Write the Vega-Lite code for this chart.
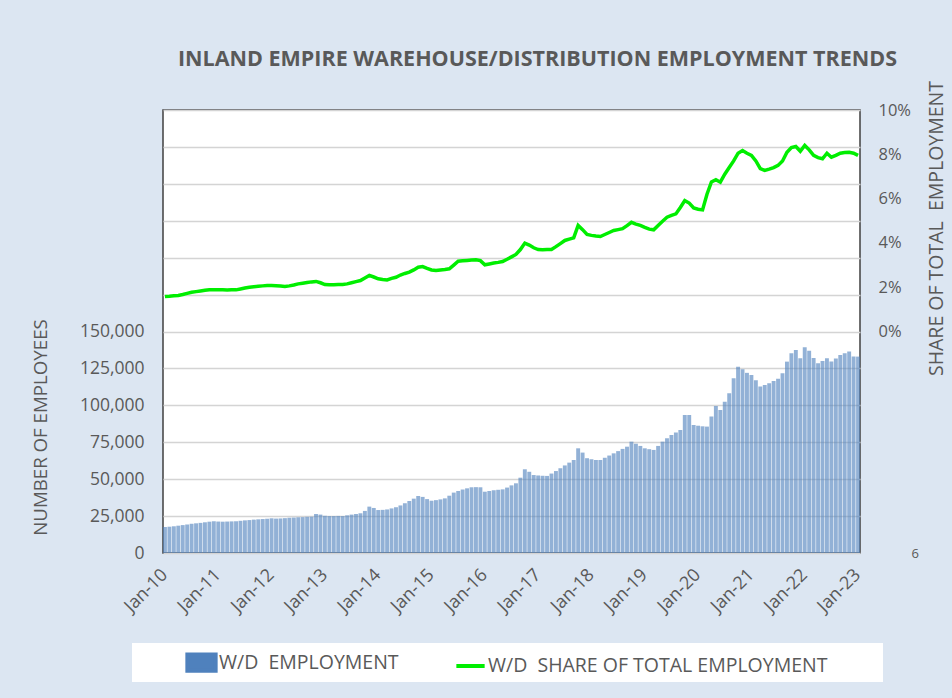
{
  "$schema": "https://vega.github.io/schema/vega-lite/v6.json",
  "width": 697,
  "height": 443,
  "autosize": {"type": "none"},
  "padding": {"left": 163, "top": 110, "right": 92, "bottom": 145},
  "background": "#dce6f2",
  "title": {
    "text": "INLAND EMPIRE WAREHOUSE/DISTRIBUTION EMPLOYMENT TRENDS",
    "font": "Open Sans",
    "fontSize": 21.5,
    "fontWeight": "bold",
    "color": "#595959",
    "anchor": "middle",
    "dx": 26,
    "offset": 10
  },
  "config": {
    "view": {"fill": "white", "stroke": "#404040", "strokeWidth": 1.5},
    "font": "Open Sans",
    "axis": {"labelFont": "Open Sans", "titleFont": "Open Sans", "labelColor": "#595959", "titleColor": "#595959"}
  },
  "data": {
    "values": [
      {"m":"Jan-10","emp":17600,"share":0.0158},{"m":"Feb-10","emp":17800,"share":0.0159},{"m":"Mar-10","emp":18100,"share":0.0161},{"m":"Apr-10","emp":18500,"share":0.0163},{"m":"May-10","emp":18900,"share":0.0167},{"m":"Jun-10","emp":19300,"share":0.0172},{"m":"Jul-10","emp":19800,"share":0.0177},{"m":"Aug-10","emp":20100,"share":0.0180},{"m":"Sep-10","emp":20400,"share":0.0183},{"m":"Oct-10","emp":20800,"share":0.0186},{"m":"Nov-10","emp":21200,"share":0.0188},{"m":"Dec-10","emp":21500,"share":0.0188},
      {"m":"Jan-11","emp":21300,"share":0.0188},{"m":"Feb-11","emp":21200,"share":0.0188},{"m":"Mar-11","emp":21300,"share":0.0187},{"m":"Apr-11","emp":21400,"share":0.0188},{"m":"May-11","emp":21500,"share":0.0188},{"m":"Jun-11","emp":21800,"share":0.0192},{"m":"Jul-11","emp":22100,"share":0.0196},{"m":"Aug-11","emp":22300,"share":0.0200},{"m":"Sep-11","emp":22600,"share":0.0202},{"m":"Oct-11","emp":22800,"share":0.0204},{"m":"Nov-11","emp":23000,"share":0.0206},{"m":"Dec-11","emp":23200,"share":0.0208},
      {"m":"Jan-12","emp":23500,"share":0.0208},{"m":"Feb-12","emp":23300,"share":0.0207},{"m":"Mar-12","emp":23400,"share":0.0205},{"m":"Apr-12","emp":23600,"share":0.0203},{"m":"May-12","emp":23800,"share":0.0206},{"m":"Jun-12","emp":24000,"share":0.0210},{"m":"Jul-12","emp":24200,"share":0.0215},{"m":"Aug-12","emp":24300,"share":0.0218},{"m":"Sep-12","emp":24500,"share":0.0221},{"m":"Oct-12","emp":24600,"share":0.0224},{"m":"Nov-12","emp":26400,"share":0.0226},{"m":"Dec-12","emp":26000,"share":0.0220},
      {"m":"Jan-13","emp":25200,"share":0.0212},{"m":"Feb-13","emp":25000,"share":0.0211},{"m":"Mar-13","emp":25000,"share":0.0211},{"m":"Apr-13","emp":25100,"share":0.0212},{"m":"May-13","emp":25000,"share":0.0212},{"m":"Jun-13","emp":25500,"share":0.0215},{"m":"Jul-13","emp":26000,"share":0.0220},{"m":"Aug-13","emp":26400,"share":0.0225},{"m":"Sep-13","emp":26900,"share":0.0230},{"m":"Oct-13","emp":28500,"share":0.0242},{"m":"Nov-13","emp":31400,"share":0.0253},{"m":"Dec-13","emp":30500,"share":0.0246},
      {"m":"Jan-14","emp":29100,"share":0.0238},{"m":"Feb-14","emp":29200,"share":0.0235},{"m":"Mar-14","emp":29500,"share":0.0233},{"m":"Apr-14","emp":30200,"share":0.0240},{"m":"May-14","emp":31000,"share":0.0245},{"m":"Jun-14","emp":32200,"share":0.0255},{"m":"Jul-14","emp":33700,"share":0.0262},{"m":"Aug-14","emp":35200,"share":0.0268},{"m":"Sep-14","emp":36800,"share":0.0278},{"m":"Oct-14","emp":38600,"share":0.0290},{"m":"Nov-14","emp":38000,"share":0.0293},{"m":"Dec-14","emp":36500,"share":0.0285},
      {"m":"Jan-15","emp":35400,"share":0.0278},{"m":"Feb-15","emp":35800,"share":0.0275},{"m":"Mar-15","emp":36300,"share":0.0278},{"m":"Apr-15","emp":37000,"share":0.0280},{"m":"May-15","emp":38800,"share":0.0283},{"m":"Jun-15","emp":40900,"share":0.0300},{"m":"Jul-15","emp":42000,"share":0.0317},{"m":"Aug-15","emp":43000,"share":0.0319},{"m":"Sep-15","emp":43800,"share":0.0321},{"m":"Oct-15","emp":44500,"share":0.0323},{"m":"Nov-15","emp":44600,"share":0.0324},{"m":"Dec-15","emp":44500,"share":0.0320},
      {"m":"Jan-16","emp":41500,"share":0.0301},{"m":"Feb-16","emp":42000,"share":0.0305},{"m":"Mar-16","emp":42500,"share":0.0309},{"m":"Apr-16","emp":42800,"share":0.0312},{"m":"May-16","emp":43100,"share":0.0316},{"m":"Jun-16","emp":44300,"share":0.0326},{"m":"Jul-16","emp":45800,"share":0.0337},{"m":"Aug-16","emp":47200,"share":0.0348},{"m":"Sep-16","emp":51000,"share":0.0370},{"m":"Oct-16","emp":56700,"share":0.0399},{"m":"Nov-16","emp":55000,"share":0.0390},{"m":"Dec-16","emp":52800,"share":0.0378},
      {"m":"Jan-17","emp":52500,"share":0.0370},{"m":"Feb-17","emp":52300,"share":0.0369},{"m":"Mar-17","emp":52200,"share":0.0370},{"m":"Apr-17","emp":53800,"share":0.0370},{"m":"May-17","emp":55500,"share":0.0383},{"m":"Jun-17","emp":57400,"share":0.0397},{"m":"Jul-17","emp":59300,"share":0.0411},{"m":"Aug-17","emp":61200,"share":0.0417},{"m":"Sep-17","emp":63000,"share":0.0423},{"m":"Oct-17","emp":70900,"share":0.0479},{"m":"Nov-17","emp":68000,"share":0.0460},{"m":"Dec-17","emp":64200,"share":0.0438},
      {"m":"Jan-18","emp":63500,"share":0.0434},{"m":"Feb-18","emp":63000,"share":0.0431},{"m":"Mar-18","emp":63000,"share":0.0429},{"m":"Apr-18","emp":64500,"share":0.0438},{"m":"May-18","emp":66000,"share":0.0447},{"m":"Jun-18","emp":67500,"share":0.0456},{"m":"Jul-18","emp":69000,"share":0.0460},{"m":"Aug-18","emp":70500,"share":0.0464},{"m":"Sep-18","emp":72000,"share":0.0478},{"m":"Oct-18","emp":75400,"share":0.0493},{"m":"Nov-18","emp":74000,"share":0.0485},{"m":"Dec-18","emp":72500,"share":0.0479},
      {"m":"Jan-19","emp":70900,"share":0.0470},{"m":"Feb-19","emp":70300,"share":0.0462},{"m":"Mar-19","emp":69800,"share":0.0459},{"m":"Apr-19","emp":72500,"share":0.0479},{"m":"May-19","emp":75400,"share":0.0498},{"m":"Jun-19","emp":77700,"share":0.0516},{"m":"Jul-19","emp":79900,"share":0.0524},{"m":"Aug-19","emp":81600,"share":0.0531},{"m":"Sep-19","emp":83300,"share":0.0560},{"m":"Oct-19","emp":93500,"share":0.0591},{"m":"Nov-19","emp":93500,"share":0.0580},{"m":"Dec-19","emp":86700,"share":0.0558},
      {"m":"Jan-20","emp":86200,"share":0.0552},{"m":"Feb-20","emp":85800,"share":0.0549},{"m":"Mar-20","emp":85600,"share":0.0620},{"m":"Apr-20","emp":92400,"share":0.0675},{"m":"May-20","emp":99600,"share":0.0685},{"m":"Jun-20","emp":96900,"share":0.0674},{"m":"Jul-20","emp":102500,"share":0.0710},{"m":"Aug-20","emp":108200,"share":0.0740},{"m":"Sep-20","emp":118400,"share":0.0770},{"m":"Oct-20","emp":126200,"share":0.0805},{"m":"Nov-20","emp":124500,"share":0.0817},{"m":"Dec-20","emp":122000,"share":0.0805},
      {"m":"Jan-21","emp":120600,"share":0.0795},{"m":"Feb-21","emp":117000,"share":0.0770},{"m":"Mar-21","emp":112700,"share":0.0735},{"m":"Apr-21","emp":113800,"share":0.0727},{"m":"May-21","emp":115000,"share":0.0733},{"m":"Jun-21","emp":116500,"share":0.0740},{"m":"Jul-21","emp":118000,"share":0.0750},{"m":"Aug-21","emp":121700,"share":0.0770},{"m":"Sep-21","emp":129600,"share":0.0809},{"m":"Oct-21","emp":135300,"share":0.0830},{"m":"Nov-21","emp":137500,"share":0.0835},{"m":"Dec-21","emp":131900,"share":0.0814},
      {"m":"Jan-22","emp":139300,"share":0.0840},{"m":"Feb-22","emp":137000,"share":0.0820},{"m":"Mar-22","emp":132000,"share":0.0795},{"m":"Apr-22","emp":128500,"share":0.0785},{"m":"May-22","emp":130000,"share":0.0780},{"m":"Jun-22","emp":131900,"share":0.0805},{"m":"Jul-22","emp":129600,"share":0.0787},{"m":"Aug-22","emp":131800,"share":0.0795},{"m":"Sep-22","emp":134100,"share":0.0805},{"m":"Oct-22","emp":135300,"share":0.0808},{"m":"Nov-22","emp":136400,"share":0.0809},{"m":"Dec-22","emp":133000,"share":0.0805},
      {"m":"Jan-23","emp":133000,"share":0.0795}
    ]
  },
  "encoding": {
    "x": {
      "field": "m",
      "type": "ordinal",
      "sort": null,
      "scale": {"paddingInner": 0.12, "paddingOuter": 0},
      "axis": {
        "title": null,
        "labelExpr": "indexof(datum.value, 'Jan') === 0 ? datum.value : ''",
        "labelAngle": -45,
        "labelAlign": "right",
        "labelBaseline": "middle",
        "labelPadding": 19,
        "labelFontSize": 18,
        "labelOverlap": false,
        "labelBound": false,
        "ticks": false,
        "domain": false,
        "grid": false
      }
    }
  },
  "layer": [
    {
      "mark": {"type": "bar", "fillOpacity": 0.62},
      "encoding": {
        "y": {
          "field": "emp",
          "type": "quantitative",
          "scale": {"domain": [0, 300000], "nice": false},
          "axis": {
            "title": "NUMBER OF EMPLOYEES",
            "titleFontSize": 18.7,
            "titleFontWeight": "normal",
            "titleX": -113,
            "titleY": 317,
            "values": [0,25000,50000,75000,100000,125000,150000,175000,200000,225000,250000,275000,300000],
            "labelExpr": "datum.value <= 150000 ? format(datum.value, ',') : ''",
            "labelFontSize": 17.5,
            "labelPadding": 19,
            "ticks": false,
            "domain": false,
            "grid": true,
            "gridColor": "#d4d4d4",
            "gridWidth": 1.5
          }
        },
        "color": {
          "datum": "W/D\u00a0 EMPLOYMENT",
          "scale": {"domain": ["W/D\u00a0 EMPLOYMENT", "W/D\u00a0 SHARE OF TOTAL EMPLOYMENT"], "range": ["#4f81bd", "#00ee00"]},
          "legend": {
            "title": "\u00a0",
            "titleOrient": "right",
            "titlePadding": 53,
            "titleFontSize": 10,
            "orient": "none",
            "legendX": -31,
            "legendY": 533,
            "direction": "horizontal",
            "fillColor": "white",
            "padding": 3,
            "labelFont": "Open Sans",
            "labelFontSize": 19.5,
            "labelColor": "#595959",
            "labelLimit": 500,
            "labelOffset": 1,
            "columnPadding": 5,
            "symbolOffset": 50,
            "symbolSize": 800,
            "symbolStrokeWidth": 4,
            "encode": {
              "symbols": {
                "update": {
                  "shape": {"signal": "datum.value === 'W/D\u00a0 EMPLOYMENT' ? 'M-1,-0.58H1V0.58H-1Z' : 'stroke'"},
                  "fill": {"signal": "datum.value === 'W/D\u00a0 EMPLOYMENT' ? '#4f81bd' : 'transparent'"},
                  "stroke": {"signal": "datum.value === 'W/D\u00a0 EMPLOYMENT' ? 'transparent' : '#00ee00'"},
                  "strokeWidth": {"value": 4},
                  "opacity": {"value": 1},
                  "fillOpacity": {"value": 1}
                }
              }
            }
          }
        }
      }
    },
    {
      "mark": {"type": "line", "strokeWidth": 3.5},
      "encoding": {
        "y": {
          "field": "share",
          "type": "quantitative",
          "scale": {"domain": [-0.1, 0.1], "nice": false},
          "axis": {
            "orient": "right",
            "title": "SHARE OF TOTAL\u00a0 EMPLOYMENT",
            "titleFontSize": 19.5,
            "titleFontWeight": "normal",
            "titleAngle": 270,
            "titleX": 86,
            "titleY": 118,
            "values": [-0.1, 0, 0.02, 0.04, 0.06, 0.08, 0.1],
            "format": ".0%",
            "labelExpr": "datum.value < -0.05 ? '6' : datum.label",
            "labelFontSize": {"condition": {"test": "datum.value < -0.05", "value": 13}, "value": 16.5},
            "labelPadding": {"condition": {"test": "datum.value < -0.05", "value": 51}, "value": 18},
            "labelBound": false,
            "ticks": false,
            "domain": false,
            "grid": false
          }
        },
        "color": {"datum": "W/D\u00a0 SHARE OF TOTAL EMPLOYMENT"}
      }
    }
  ],
  "resolve": {"scale": {"y": "independent"}}
}
